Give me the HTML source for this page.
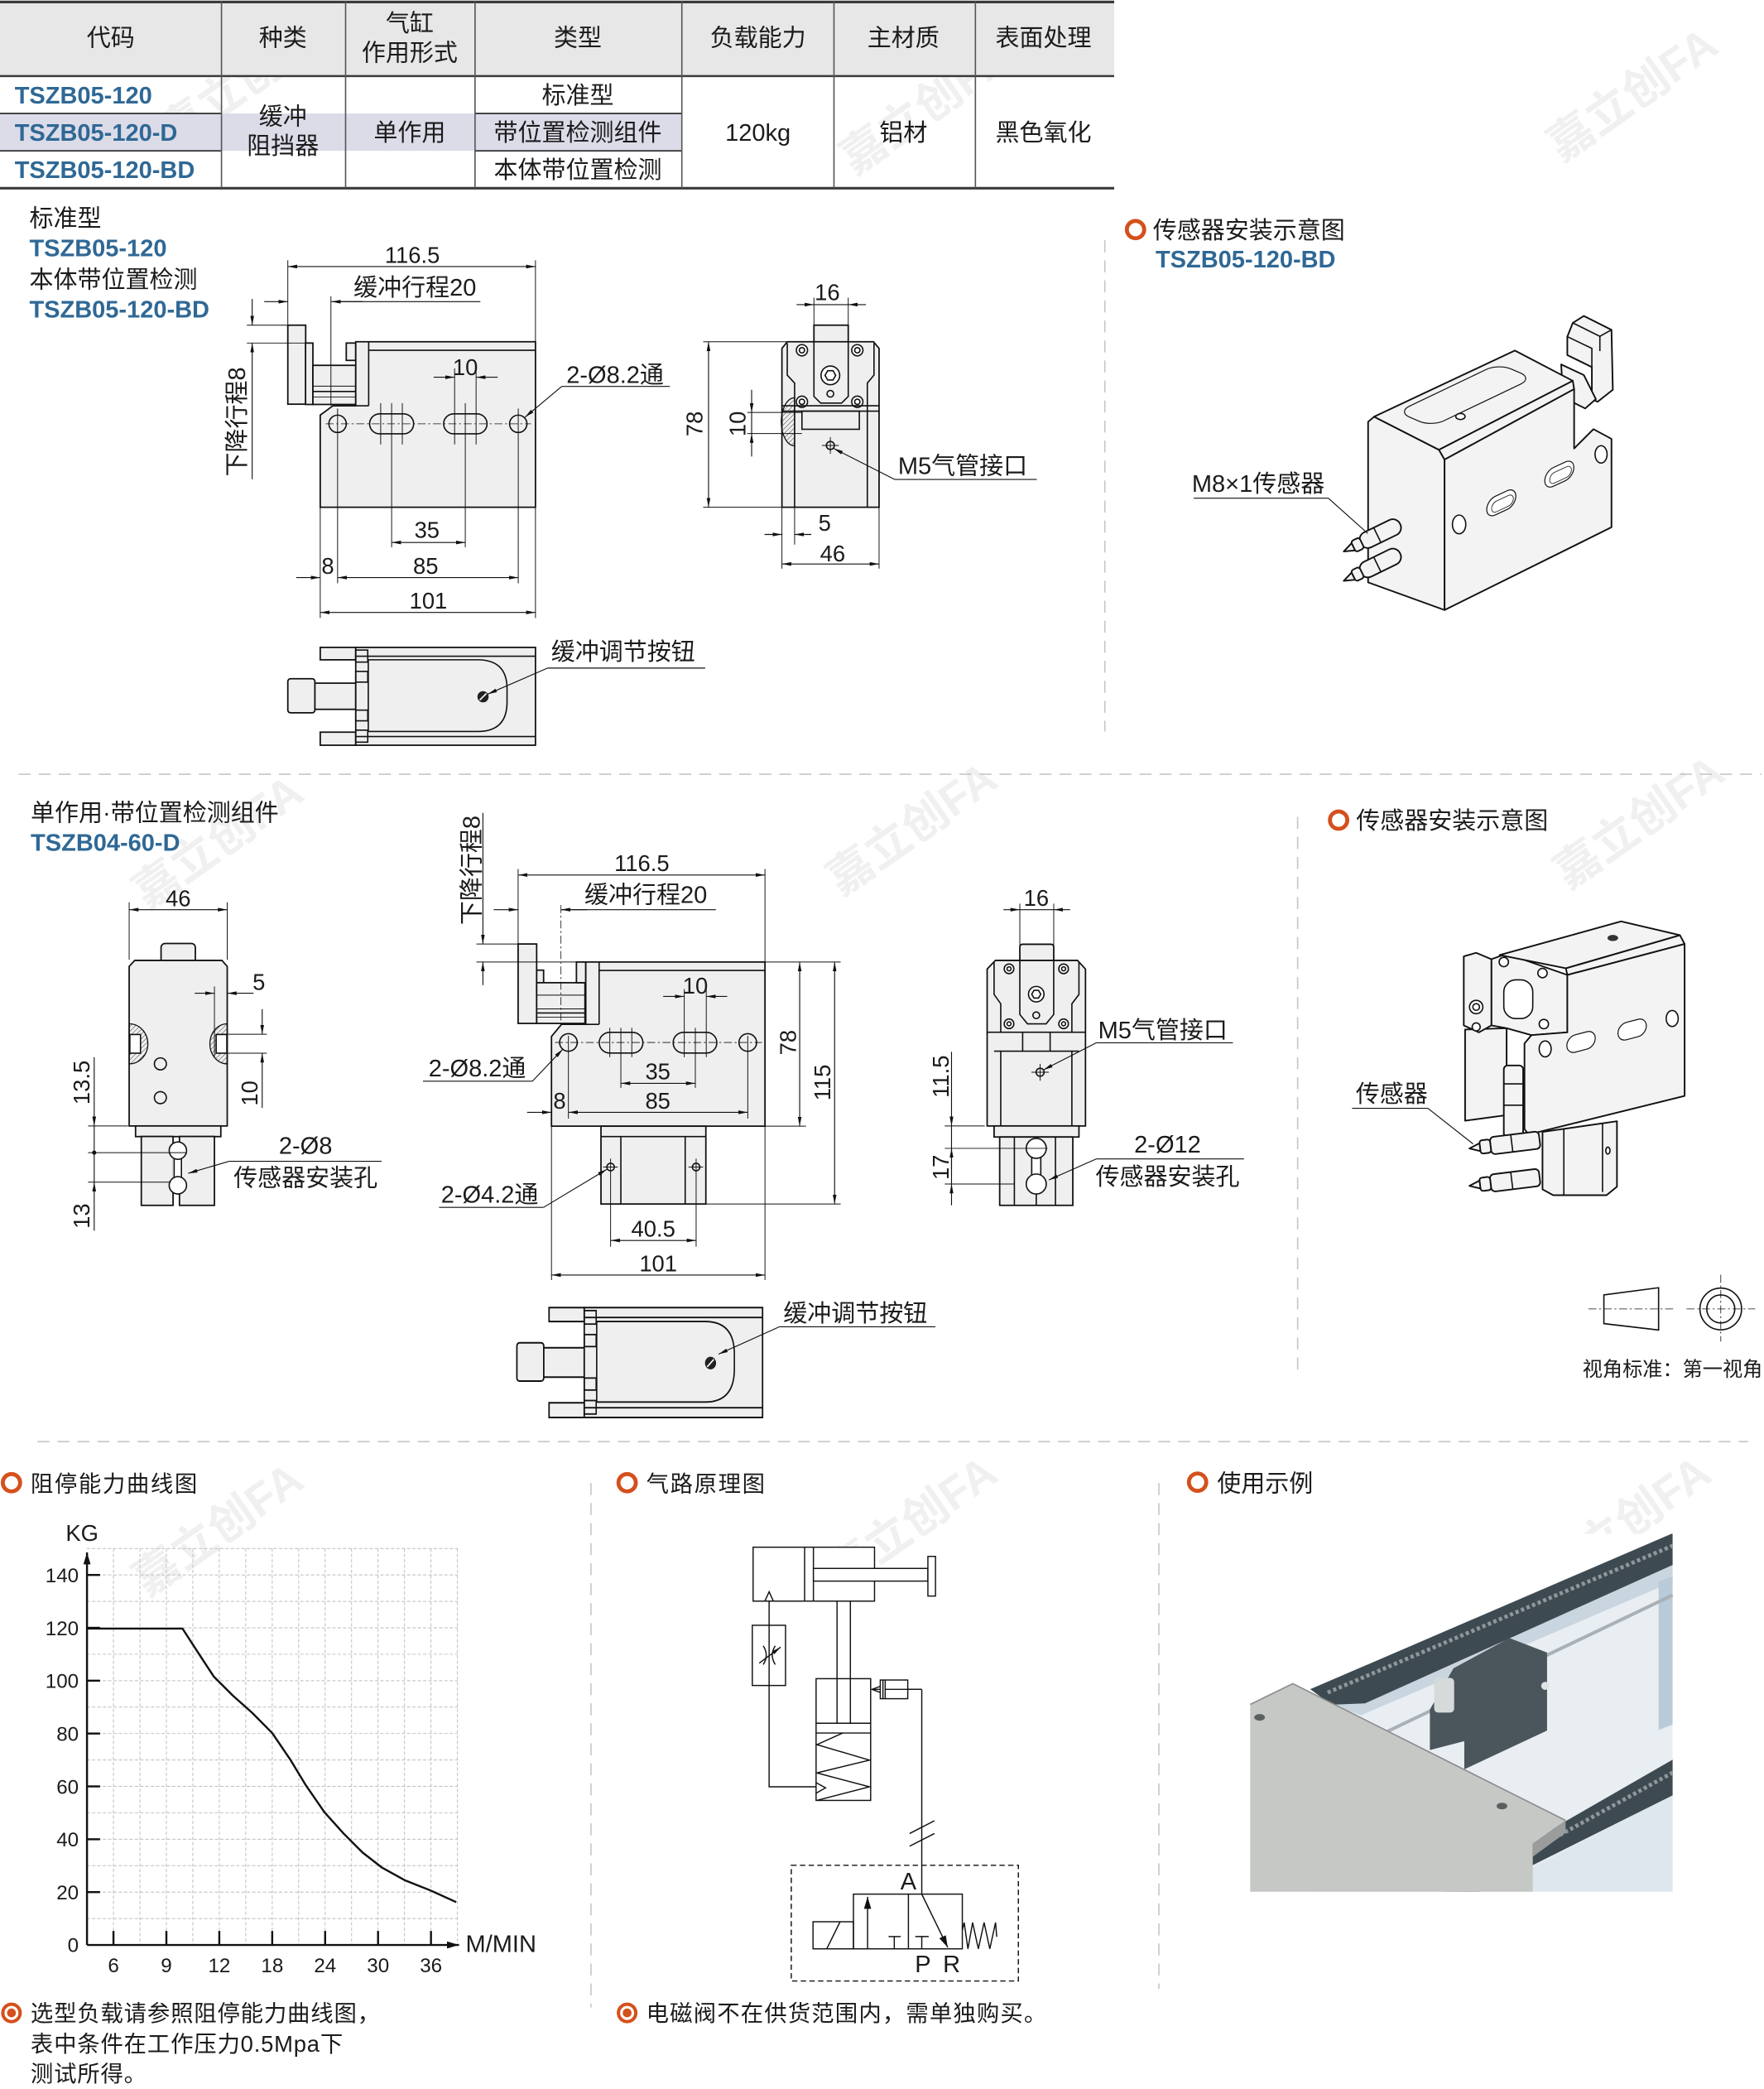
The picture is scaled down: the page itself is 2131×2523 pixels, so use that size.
<!DOCTYPE html>
<html><head><meta charset="utf-8">
<style>
html,body{margin:0;padding:0;background:#fff;width:2131px;height:2523px;overflow:hidden}
svg{display:block}
text{font-family:"Liberation Sans","Noto Sans CJK SC",sans-serif;fill:#1b1b1b}
.c{text-anchor:middle}
.bl{fill:#2f6895;font-weight:bold}
.o{stroke:#111;stroke-width:1.1;fill:#efefef}
.f{stroke:#111;stroke-width:1.2;fill:#f3f3f3;stroke-linejoin:round}
.l{stroke:#111;stroke-width:1;fill:none}
.t{stroke:#111;stroke-width:.6;fill:none}
.d{stroke:#111;stroke-width:.7;fill:none}
.w{stroke:#111;stroke-width:1;fill:#fff}
.cl{stroke:#111;stroke-width:.5;fill:none;stroke-dasharray:6 2 1.5 2}
.dv{stroke:#c6c6c6;stroke-width:1;stroke-dasharray:9 6;fill:none}
.wm{fill:#f0f0f0;font-weight:bold;font-family:"Liberation Sans","Noto Sans CJK SC",sans-serif}
</style></head><body>
<svg width="2131" height="2523" viewBox="0 0 1322 1565" preserveAspectRatio="none" xmlns="http://www.w3.org/2000/svg">
<defs>
<marker id="a" viewBox="0 0 10 4" refX="10" refY="2" markerWidth="7" markerHeight="2.8" orient="auto-start-reverse" markerUnits="userSpaceOnUse"><path d="M0,0L10,2L0,4z" fill="#111"/></marker>
<marker id="b" viewBox="0 0 10 6" refX="10" refY="3" markerWidth="9" markerHeight="5.4" orient="auto" markerUnits="userSpaceOnUse"><path d="M0,0L10,3L0,6z" fill="#111"/></marker>
<pattern id="h" width="2.5" height="2.5" patternUnits="userSpaceOnUse" patternTransform="rotate(45)"><line x1="0" y1="0" x2="0" y2="2.5" stroke="#333" stroke-width="0.6"/></pattern>
<clipPath id="pc"><rect x="936.8" y="1149" width="317" height="268.2"/></clipPath>
</defs>

<!-- watermarks -->
<g font-size="34">
<text transform="translate(190,70) rotate(-35)" class="c wm">嘉立创FA</text>
<text transform="translate(700,90) rotate(-35)" class="c wm">嘉立创FA</text>
<text transform="translate(1230,80) rotate(-35)" class="c wm">嘉立创FA</text>
<text transform="translate(170,640) rotate(-35)" class="c wm">嘉立创FA</text>
<text transform="translate(690,630) rotate(-35)" class="c wm">嘉立创FA</text>
<text transform="translate(1235,625) rotate(-35)" class="c wm">嘉立创FA</text>
<text transform="translate(170,1155) rotate(-35)" class="c wm">嘉立创FA</text>
<text transform="translate(690,1150) rotate(-35)" class="c wm">嘉立创FA</text>
<text transform="translate(1225,1150) rotate(-35)" class="c wm">嘉立创FA</text>
</g>

<!-- ===== TABLE ===== -->
<rect x="0" y="1" width="835" height="56" fill="#e7e7e7"/>
<rect x="0" y="85" width="511" height="28" fill="#dcdce9"/>
<g stroke="#3a3a3a">
<line x1="0" y1="1.5" x2="835" y2="1.5" stroke-width="2"/>
<line x1="0" y1="57" x2="835" y2="57" stroke-width="1.6"/>
<line x1="0" y1="141" x2="835" y2="141" stroke-width="2"/>
<line x1="0" y1="85" x2="166" y2="85" stroke-width="1.2"/>
<line x1="0" y1="113" x2="166" y2="113" stroke-width="1.2"/>
<line x1="356" y1="85" x2="511" y2="85" stroke-width="1.2"/>
<line x1="356" y1="113" x2="511" y2="113" stroke-width="1.2"/>
</g>
<g stroke="#555" stroke-width="1">
<line x1="166" y1="1" x2="166" y2="141"/><line x1="259" y1="1" x2="259" y2="141"/>
<line x1="356" y1="1" x2="356" y2="141"/><line x1="511" y1="1" x2="511" y2="141"/>
<line x1="625" y1="1" x2="625" y2="141"/><line x1="731" y1="1" x2="731" y2="141"/>
</g>
<g font-size="18">
<text class="c" x="83" y="34.5">代码</text>
<text class="c" x="212" y="34.5">种类</text>
<text class="c" x="307" y="23.5">气缸</text>
<text class="c" x="307" y="45.5">作用形式</text>
<text class="c" x="433" y="34.5">类型</text>
<text class="c" x="568" y="34.5">负载能力</text>
<text class="c" x="677" y="34.5">主材质</text>
<text class="c" x="782" y="34.5">表面处理</text>
<text class="c" x="212" y="93.5">缓冲</text>
<text class="c" x="212" y="115.5">阻挡器</text>
<text class="c" x="307" y="105.5">单作用</text>
<text class="c" x="433" y="77.5">标准型</text>
<text class="c" x="433" y="105.5">带位置检测组件</text>
<text class="c" x="433" y="133.5">本体带位置检测</text>
<text class="c" x="568" y="105.5">120kg</text>
<text class="c" x="677" y="105.5">铝材</text>
<text class="c" x="782" y="105.5">黑色氧化</text>
</g>
<g font-size="18">
<text class="bl" x="11" y="77.5">TSZB05-120</text>
<text class="bl" x="11" y="105.5">TSZB05-120-D</text>
<text class="bl" x="11" y="133.5">TSZB05-120-BD</text>
</g>

<!-- ===== SECTION 1 labels ===== -->
<g font-size="18">
<text x="22" y="169.5">标准型</text>
<text class="bl" x="22" y="192">TSZB05-120</text>
<text x="22" y="215.5">本体带位置检测</text>
<text class="bl" x="22" y="238">TSZB05-120-BD</text>
</g>

<!-- ===== FRONT VIEW 1 ===== -->
<rect class="o" x="215.7" y="243.6" width="13.4" height="59.2"/>
<rect class="o" x="229" y="257" width="5.5" height="46"/>
<rect class="o" x="234.5" y="273.7" width="32.1" height="29.3"/>
<rect class="o" x="259.5" y="257" width="7.1" height="13"/>
<line class="t" x1="234.5" y1="289.3" x2="266.6" y2="289.3"/>
<line class="l" x1="234.5" y1="293.3" x2="266.6" y2="293.3"/>
<line class="t" x1="234.5" y1="297.4" x2="266.6" y2="297.4"/>
<path class="o" d="M266.6,256H401.3V380H240V311L249.5,304H266.6Z"/>
<line class="l" x1="276.3" y1="262.4" x2="401.3" y2="262.4"/>
<line class="l" x1="276.3" y1="256" x2="276.3" y2="304"/>
<line class="l" x1="266.6" y1="304" x2="276.3" y2="304"/>
<circle class="l" cx="253" cy="317.5" r="6.5"/>
<rect class="l" x="277" y="310" width="33" height="15" rx="7.5"/>
<rect class="l" x="332.5" y="310" width="32.5" height="15" rx="7.5"/>
<circle class="l" cx="388.4" cy="317.5" r="6.5"/>
<line class="cl" x1="244" y1="317.5" x2="398" y2="317.5"/>
<line class="t" x1="293.5" y1="302" x2="293.5" y2="410"/>
<line class="t" x1="348.7" y1="302" x2="348.7" y2="410"/>
<line class="t" x1="285.3" y1="302" x2="285.3" y2="333"/>
<line class="t" x1="301.5" y1="302" x2="301.5" y2="333"/>
<line class="t" x1="340.7" y1="276" x2="340.7" y2="333"/>
<line class="t" x1="356.8" y1="276" x2="356.8" y2="333"/>
<line class="t" x1="253" y1="306" x2="253" y2="437"/>
<line class="t" x1="388.4" y1="306" x2="388.4" y2="437"/>
<line class="t" x1="248" y1="222" x2="248" y2="304"/>
<line class="t" x1="215.7" y1="195" x2="215.7" y2="243"/>
<line class="t" x1="401.3" y1="195" x2="401.3" y2="256"/>
<line class="d" x1="215.7" y1="199.7" x2="401.3" y2="199.7" marker-start="url(#a)" marker-end="url(#a)"/>
<text class="c" x="309" y="197" font-size="17">116.5</text>
<text class="c" x="311" y="221.5" font-size="18">缓冲行程20</text>
<line class="d" x1="249.5" y1="226" x2="360" y2="226"/>
<line class="d" x1="198" y1="226" x2="215.7" y2="226" marker-end="url(#a)"/>
<line class="d" x1="272" y1="226" x2="248.3" y2="226" marker-end="url(#a)"/>
<text transform="translate(183.5,316) rotate(-90)" class="c" font-size="18">下降行程8</text>
<line class="d" x1="189" y1="224" x2="189" y2="243.6" marker-end="url(#a)"/>
<line class="d" x1="189" y1="359" x2="189" y2="257" marker-end="url(#a)"/>
<line class="t" x1="185" y1="243.6" x2="216" y2="243.6"/>
<line class="t" x1="185" y1="257" x2="229" y2="257"/>
<line class="t" x1="240" y1="380" x2="240" y2="463"/>
<line class="t" x1="401.3" y1="380" x2="401.3" y2="463"/>
<line class="d" x1="325" y1="282.6" x2="340.7" y2="282.6" marker-end="url(#a)"/>
<line class="d" x1="373" y1="282.6" x2="356.8" y2="282.6" marker-end="url(#a)"/>
<text class="c" x="348.7" y="281" font-size="17">10</text>
<line class="d" x1="293.5" y1="406.4" x2="348.7" y2="406.4" marker-start="url(#a)" marker-end="url(#a)"/>
<text class="c" x="320" y="403" font-size="17">35</text>
<line class="d" x1="222" y1="432.7" x2="240" y2="432.7" marker-end="url(#a)"/>
<text class="c" x="245.7" y="430" font-size="17">8</text>
<line class="d" x1="253" y1="432.7" x2="388.4" y2="432.7" marker-start="url(#a)" marker-end="url(#a)"/>
<text class="c" x="319" y="430" font-size="17">85</text>
<line class="d" x1="240" y1="458.8" x2="401.3" y2="458.8" marker-start="url(#a)" marker-end="url(#a)"/>
<text class="c" x="321" y="456" font-size="17">101</text>
<text class="c" x="461" y="287" font-size="18">2-Ø8.2通</text>
<line class="d" x1="421" y1="289.5" x2="502" y2="289.5"/>
<line class="d" x1="421" y1="289.5" x2="393.5" y2="312.5" marker-end="url(#a)"/>

<!-- ===== SIDE VIEW 1 ===== -->
<rect class="o" x="610" y="243.6" width="25.7" height="14"/>
<path class="o" d="M590,256H654.6L658.8,261V380H586V261Z"/>
<path class="l" d="M590,257V281L595.5,287V304M655,257V281L650,287V304"/>
<path class="l" d="M610,256V297L615,302H630.7L635.7,297V256"/>
<g>
<circle class="w" cx="601" cy="262.4" r="4.2"/><circle class="l" cx="601" cy="262.4" r="2"/>
<circle class="w" cx="642.5" cy="262.4" r="4.2"/><circle class="l" cx="642.5" cy="262.4" r="2"/>
<circle class="w" cx="601" cy="301" r="4.2"/><circle class="l" cx="601" cy="301" r="2"/>
<circle class="w" cx="642.5" cy="301" r="4.2"/><circle class="l" cx="642.5" cy="301" r="2"/>
<circle class="w" cx="622.3" cy="281.2" r="7"/>
<polygon class="l" points="626.3,281.2 624.3,284.7 620.3,284.7 618.3,281.2 620.3,277.7 624.3,277.7"/>
<circle class="l" cx="622.3" cy="295" r="2.5"/>
</g>
<line class="l" x1="586" y1="304" x2="658.8" y2="304"/>
<line class="l" x1="586" y1="308" x2="658.8" y2="308"/>
<rect class="l" x="601" y="308" width="43" height="13.6"/>
<line class="l" x1="595.5" y1="304" x2="595.5" y2="380"/>
<line class="l" x1="650" y1="304" x2="650" y2="380"/>
<path d="M595.5,298A10 18 0 0 0 595.5,334Z" fill="url(#h)" stroke="#111" stroke-width="0.8"/>
<circle class="l" cx="622.3" cy="333.7" r="3"/>
<line class="t" x1="616" y1="333.7" x2="628.6" y2="333.7"/><line class="t" x1="622.3" y1="327.4" x2="622.3" y2="340"/>
<line class="t" x1="610" y1="223" x2="610" y2="244"/>
<line class="t" x1="635.7" y1="223" x2="635.7" y2="244"/>
<line class="d" x1="597" y1="228.2" x2="610" y2="228.2" marker-end="url(#a)"/>
<line class="d" x1="649" y1="228.2" x2="635.7" y2="228.2" marker-end="url(#a)"/>
<line class="d" x1="610" y1="228.2" x2="635.7" y2="228.2"/>
<text class="c" x="620" y="225" font-size="17">16</text>
<line class="t" x1="527" y1="256" x2="590" y2="256"/>
<line class="t" x1="527" y1="380" x2="586" y2="380"/>
<line class="d" x1="531" y1="256" x2="531" y2="380" marker-start="url(#a)" marker-end="url(#a)"/>
<text transform="translate(526.5,317.5) rotate(-90)" class="c" font-size="17">78</text>
<line class="t" x1="560" y1="309" x2="601" y2="309"/>
<line class="t" x1="560" y1="324.8" x2="601" y2="324.8"/>
<line class="d" x1="563.3" y1="292" x2="563.3" y2="309" marker-end="url(#a)"/>
<line class="d" x1="563.3" y1="342" x2="563.3" y2="324.8" marker-end="url(#a)"/>
<line class="d" x1="563.3" y1="309" x2="563.3" y2="324.8"/>
<text transform="translate(558.7,317.5) rotate(-90)" class="c" font-size="17">10</text>
<line class="t" x1="586" y1="380" x2="586" y2="426"/>
<line class="t" x1="595.5" y1="380" x2="595.5" y2="408"/>
<line class="t" x1="658.8" y1="380" x2="658.8" y2="426"/>
<line class="d" x1="573" y1="400.4" x2="586" y2="400.4" marker-end="url(#a)"/>
<line class="d" x1="608" y1="400.4" x2="595.5" y2="400.4" marker-end="url(#a)"/>
<text class="c" x="618" y="397.5" font-size="17">5</text>
<line class="d" x1="586" y1="422.5" x2="658.8" y2="422.5" marker-start="url(#a)" marker-end="url(#a)"/>
<text class="c" x="624" y="420.5" font-size="17">46</text>
<line class="d" x1="670.6" y1="359.2" x2="777" y2="359.2"/>
<line class="d" x1="670.6" y1="359.2" x2="624.8" y2="336" marker-end="url(#a)"/>
<text x="673" y="355" font-size="18">M5气管接口</text>

<!-- ===== TOP VIEW 1 ===== -->
<g id="tv">
<rect class="o" x="215.7" y="508.5" width="20.3" height="25.5" rx="2"/>
<rect class="o" x="236" y="511.8" width="30.6" height="19.6"/>
<rect class="o" x="240" y="485" width="26.6" height="9.3"/>
<rect class="o" x="240" y="548.5" width="26.6" height="9.8"/>
<rect class="o" x="266.6" y="485" width="134.7" height="73.3"/>
<line class="l" x1="266.6" y1="491.6" x2="401.3" y2="491.6"/>
<line class="l" x1="266.6" y1="551.8" x2="401.3" y2="551.8"/>
<rect class="l" x="266.6" y="487" width="9" height="9"/>
<rect class="l" x="266.6" y="547" width="9" height="9"/>
<rect class="l" x="266.6" y="503" width="9" height="8"/>
<rect class="l" x="266.6" y="532" width="9" height="8"/>
<line class="l" x1="276" y1="494" x2="276" y2="548"/>
<path class="l" d="M276,494.3H358Q380,494.3 380,516V526Q380,548 358,548H276"/>
<circle cx="362" cy="522" r="4.2" fill="#222"/>
<line x1="359.5" y1="524.5" x2="364.5" y2="519.5" stroke="#fff" stroke-width="1"/>
</g>
<text x="413" y="494.5" font-size="18">缓冲调节按钮</text>
<line class="d" x1="410.4" y1="500.5" x2="528.5" y2="500.5"/>
<line class="d" x1="410.4" y1="500.5" x2="365.5" y2="520" marker-end="url(#a)"/>

<line class="dv" x1="828" y1="180" x2="828" y2="548"/>

<!-- ===== ISO 1 ===== -->
<circle cx="851" cy="172" r="6.5" fill="#fff" stroke="#d4501c" stroke-width="3"/>
<text x="864" y="178.5" font-size="18">传感器安装示意图</text>
<text class="bl" x="866" y="200.5" font-size="18">TSZB05-120-BD</text>
<g>
<polygon class="f" points="1174.6,252.2 1178.7,241.9 1187,236.7 1207.7,247.1 1208.7,292 1197.3,301 1193,299 1193,275 1174.6,266"/>
<polyline class="l" points="1178.7,241.9 1199,252 1207.7,247.1"/>
<line class="l" x1="1199" y1="252" x2="1199" y2="263"/>
<polyline class="l" points="1174.6,252.2 1193,261 1193,275"/>
<polygon class="f" points="1170,273 1187,281 1196,299 1188,306 1178,301 1171,291"/>
<polygon class="f" points="1025.3,316 1029.8,312.2 1078.4,337 1082.6,344.3 1082.6,457 1025.3,436.3"/>
<polygon class="f" points="1029.8,312.2 1135.3,262.6 1178.7,285.3 1078.4,337"/>
<polygon class="f" points="1078.4,337 1178.7,285.3 1179.7,291.5 1082.6,344.3"/>
<polygon class="f" points="1082.6,344.3 1179.7,291.5 1179.7,336 1194.2,321.5 1207.7,328.8 1207.7,395 1082.6,457"/>
<rect x="-42" y="-14" width="84" height="28" rx="10" fill="none" stroke="#111" stroke-width="1.2" vector-effect="non-scaling-stroke" transform="matrix(0.902,-0.431,0.92,0.391,1098,296)"/>
<ellipse cx="1094.5" cy="312" rx="3.5" ry="2.3" fill="#fff" stroke="#111" stroke-width="1"/>
<rect x="-12" y="-7" width="24" height="14" rx="7" fill="#fff" stroke="#111" stroke-width="1.2" vector-effect="non-scaling-stroke" transform="matrix(0.907,-0.421,0,1,1125.1,376.7)"/>
<rect x="-8" y="-3" width="18" height="8" rx="4" fill="none" stroke="#111" stroke-width="0.8" vector-effect="non-scaling-stroke" transform="matrix(0.907,-0.421,0,1,1125.1,376.7)"/>
<rect x="-12" y="-7" width="24" height="14" rx="7" fill="#fff" stroke="#111" stroke-width="1.2" vector-effect="non-scaling-stroke" transform="matrix(0.907,-0.421,0,1,1168.6,355.2)"/>
<rect x="-8" y="-3" width="18" height="8" rx="4" fill="none" stroke="#111" stroke-width="0.8" vector-effect="non-scaling-stroke" transform="matrix(0.907,-0.421,0,1,1168.6,355.2)"/>
<ellipse class="w" cx="1093.5" cy="392.9" rx="5" ry="7"/>
<ellipse class="w" cx="1199.9" cy="340.4" rx="4.5" ry="6.5"/>
<g transform="translate(1034,400) rotate(-26)">
<rect class="f" x="-16" y="-6.2" width="33" height="12.4" rx="6"/>
<line class="l" x1="-2" y1="-6.2" x2="-2" y2="6.2" stroke-width="1.8"/>
<rect class="f" x="-22" y="-4.5" width="7" height="9" rx="2"/>
<polygon class="f" points="-22,-3 -30,0 -22,3"/>
</g>
<g transform="translate(1034,422) rotate(-26)">
<rect class="f" x="-16" y="-6.2" width="33" height="12.4" rx="6"/>
<line class="l" x1="-2" y1="-6.2" x2="-2" y2="6.2" stroke-width="1.8"/>
<rect class="f" x="-22" y="-4.5" width="7" height="9" rx="2"/>
<polygon class="f" points="-22,-3 -30,0 -22,3"/>
</g>
</g>
<text class="c" x="943" y="368.5" font-size="18">M8×1传感器</text>
<line class="d" x1="894.6" y1="373.2" x2="995.5" y2="373.2"/>
<line class="d" x1="995.5" y1="373.2" x2="1025" y2="399.6"/>

<line class="dv" x1="14" y1="580" x2="1320" y2="580"/>

<!-- ===== SECTION 2 ===== -->
<text x="23" y="615" font-size="18">单作用·带位置检测组件</text>
<text class="bl" x="23" y="637.5" font-size="18">TSZB04-60-D</text>

<!-- left side view TSZB04 -->
<rect class="o" x="120.7" y="706.8" width="25.7" height="16" rx="3"/>
<path class="o" d="M101,719.5H166.3L170.3,724V843.5H96.8V724Z"/>
<path d="M96.8,767A14 15 0 0 1 96.8,797Z" fill="url(#h)" stroke="#111" stroke-width="0.8"/>
<rect class="w" x="97.3" y="775" width="8" height="14"/>
<path d="M170.3,767A13 15 0 0 0 170.3,797Z" fill="url(#h)" stroke="#111" stroke-width="0.8"/>
<rect class="w" x="162" y="775" width="8" height="14"/>
<circle class="l" cx="120.2" cy="797" r="4.5"/>
<circle class="l" cx="120.2" cy="822.3" r="4.5"/>
<rect class="o" x="101.6" y="843.5" width="63.9" height="8"/>
<rect class="o" x="105.9" y="851.4" width="23.8" height="51.6"/>
<rect class="o" x="134.5" y="851.4" width="26.2" height="51.6"/>
<rect x="129.2" y="864" width="8" height="20" fill="#fff"/>
<circle class="w" cx="133.3" cy="862" r="6.5"/>
<circle class="w" cx="133.3" cy="888" r="6.5"/>
<line class="l" x1="130.5" y1="868" x2="130.5" y2="882"/>
<line class="l" x1="136" y1="868" x2="136" y2="882"/>
<line class="t" x1="96.8" y1="676" x2="96.8" y2="719"/>
<line class="t" x1="170.3" y1="676" x2="170.3" y2="719"/>
<line class="d" x1="96.8" y1="681.5" x2="170.3" y2="681.5" marker-start="url(#a)" marker-end="url(#a)"/>
<text class="c" x="133.5" y="679" font-size="17">46</text>
<line class="t" x1="160.7" y1="739" x2="160.7" y2="792"/>
<line class="d" x1="146" y1="744.1" x2="160.7" y2="744.1" marker-end="url(#a)"/>
<line class="d" x1="190" y1="744.1" x2="170.3" y2="744.1" marker-end="url(#a)"/>
<text class="c" x="194" y="741.5" font-size="17">5</text>
<line class="t" x1="162" y1="774.8" x2="200" y2="774.8"/>
<line class="t" x1="162" y1="789" x2="200" y2="789"/>
<line class="d" x1="196.5" y1="756" x2="196.5" y2="774.8" marker-end="url(#a)"/>
<line class="d" x1="196.5" y1="830" x2="196.5" y2="789" marker-end="url(#a)"/>
<text transform="translate(193,819) rotate(-90)" class="c" font-size="17">10</text>
<line class="t" x1="66" y1="843.5" x2="96" y2="843.5"/>
<line class="t" x1="66" y1="863.5" x2="140" y2="863.5"/>
<line class="t" x1="66" y1="885.6" x2="128" y2="885.6"/>
<line class="d" x1="70.6" y1="792" x2="70.6" y2="843.5" marker-end="url(#a)"/>
<line class="d" x1="70.6" y1="843.5" x2="70.6" y2="885.6"/>
<line class="d" x1="70.6" y1="922" x2="70.6" y2="885.6" marker-end="url(#a)"/>
<circle cx="70.6" cy="863.5" r="1.6" fill="#111"/>
<text transform="translate(67,811) rotate(-90)" class="c" font-size="17">13.5</text>
<text transform="translate(67,911) rotate(-90)" class="c" font-size="17">13</text>
<text class="c" x="229" y="864.5" font-size="18">2-Ø8</text>
<text class="c" x="229" y="888.5" font-size="18">传感器安装孔</text>
<line class="d" x1="171.7" y1="870" x2="286" y2="870"/>
<line class="d" x1="171.7" y1="870" x2="141" y2="879" marker-end="url(#a)"/>

<!-- middle front view TSZB04 -->
<rect class="o" x="388.3" y="707.2" width="13.9" height="59.5"/>
<rect class="o" x="402.2" y="726.8" width="5.2" height="18.7"/>
<rect class="o" x="402.2" y="736.2" width="36.2" height="30.5"/>
<line class="t" x1="402.2" y1="745.5" x2="438.4" y2="745.5"/>
<line class="t" x1="402.2" y1="755.8" x2="438.4" y2="755.8"/>
<line class="l" x1="402.2" y1="758.9" x2="438.4" y2="758.9"/>
<line class="t" x1="402.2" y1="762" x2="438.4" y2="762"/>
<rect class="o" x="432" y="720.7" width="7" height="15.5"/>
<path class="o" d="M439,720.7H573.3V843.7H413.3V776.5L420.8,767.4H439Z"/>
<line class="l" x1="449" y1="727" x2="573.3" y2="727"/>
<line class="l" x1="449" y1="720.7" x2="449" y2="767.4"/>
<line class="l" x1="439" y1="767.4" x2="449" y2="767.4"/>
<circle class="l" cx="426" cy="781" r="6.6"/>
<rect class="l" x="449.1" y="773.4" width="32.7" height="15.5" rx="7.75"/>
<rect class="l" x="504.5" y="773.4" width="32.7" height="15.5" rx="7.75"/>
<circle class="l" cx="560.4" cy="781" r="6.6"/>
<line class="cl" x1="416" y1="781" x2="571" y2="781"/>
<line class="t" x1="457" y1="770" x2="457" y2="792"/>
<line class="t" x1="473.5" y1="770" x2="473.5" y2="792"/>
<line class="t" x1="465.3" y1="770" x2="465.3" y2="815"/>
<line class="t" x1="512.8" y1="741" x2="512.8" y2="792"/>
<line class="t" x1="529.3" y1="741" x2="529.3" y2="792"/>
<line class="t" x1="521.1" y1="770" x2="521.1" y2="815"/>
<line class="t" x1="426" y1="776" x2="426" y2="838"/>
<line class="t" x1="560.4" y1="776" x2="560.4" y2="838"/>
<line class="cl" x1="420.4" y1="678" x2="420.4" y2="770"/>
<rect class="o" x="450.4" y="843.7" width="78.6" height="58.3"/>
<line class="l" x1="450.4" y1="851.5" x2="529" y2="851.5"/>
<line class="l" x1="465.3" y1="851.5" x2="465.3" y2="902"/>
<line class="l" x1="513.5" y1="851.5" x2="513.5" y2="902"/>
<circle class="l" cx="457.6" cy="874.3" r="2.8"/>
<circle class="l" cx="521.7" cy="874.3" r="2.8"/>
<line class="t" x1="452" y1="874.3" x2="463" y2="874.3"/><line class="t" x1="516" y1="874.3" x2="527" y2="874.3"/>
<line class="t" x1="457.6" y1="868" x2="457.6" y2="934"/>
<line class="t" x1="521.7" y1="868" x2="521.7" y2="934"/>
<line class="t" x1="388.3" y1="651" x2="388.3" y2="707"/>
<line class="t" x1="573.3" y1="651" x2="573.3" y2="720.7"/>
<line class="d" x1="388.3" y1="655.5" x2="573.3" y2="655.5" marker-start="url(#a)" marker-end="url(#a)"/>
<text class="c" x="481" y="652.5" font-size="17">116.5</text>
<text class="c" x="484" y="676.5" font-size="18">缓冲行程20</text>
<line class="d" x1="420.4" y1="681.5" x2="536.5" y2="681.5"/>
<line class="d" x1="370" y1="681.5" x2="388.3" y2="681.5" marker-end="url(#a)"/>
<line class="d" x1="440" y1="681.5" x2="420.4" y2="681.5" marker-end="url(#a)"/>
<text transform="translate(359.5,652) rotate(-90)" class="c" font-size="18">下降行程8</text>
<line class="d" x1="361.9" y1="609" x2="361.9" y2="707.2" marker-end="url(#a)"/>
<line class="d" x1="361.9" y1="738" x2="361.9" y2="720.7" marker-end="url(#a)"/>
<line class="t" x1="357" y1="707.2" x2="388.3" y2="707.2"/>
<line class="t" x1="357" y1="720.7" x2="432" y2="720.7"/>
<line class="d" x1="497" y1="746.5" x2="512.8" y2="746.5" marker-end="url(#a)"/>
<line class="d" x1="545" y1="746.5" x2="529.3" y2="746.5" marker-end="url(#a)"/>
<text class="c" x="521.1" y="744.5" font-size="17">10</text>
<line class="d" x1="465.3" y1="811.6" x2="521.1" y2="811.6" marker-start="url(#a)" marker-end="url(#a)"/>
<text class="c" x="493" y="808.5" font-size="17">35</text>
<line class="d" x1="395" y1="833.3" x2="413.3" y2="833.3" marker-end="url(#a)"/>
<text class="c" x="419.4" y="830.5" font-size="17">8</text>
<line class="d" x1="426" y1="833.3" x2="560.4" y2="833.3" marker-start="url(#a)" marker-end="url(#a)"/>
<text class="c" x="493" y="830.5" font-size="17">85</text>
<line class="t" x1="573.3" y1="720.7" x2="630" y2="720.7"/>
<line class="t" x1="573.3" y1="843.7" x2="604" y2="843.7"/>
<line class="t" x1="529" y1="902" x2="630" y2="902"/>
<line class="d" x1="599.3" y1="720.7" x2="599.3" y2="843.7" marker-start="url(#a)" marker-end="url(#a)"/>
<text transform="translate(596.5,781) rotate(-90)" class="c" font-size="17">78</text>
<line class="d" x1="625.5" y1="720.7" x2="625.5" y2="902" marker-start="url(#a)" marker-end="url(#a)"/>
<text transform="translate(622.3,811) rotate(-90)" class="c" font-size="17">115</text>
<text class="c" x="357.7" y="806.5" font-size="18">2-Ø8.2通</text>
<line class="d" x1="317" y1="810" x2="399" y2="810"/>
<line class="d" x1="399" y1="810" x2="421.8" y2="786" marker-end="url(#a)"/>
<text class="c" x="367" y="901" font-size="18">2-Ø4.2通</text>
<line class="d" x1="329" y1="904.5" x2="407.4" y2="904.5"/>
<line class="d" x1="407.4" y1="904.5" x2="454.8" y2="876" marker-end="url(#a)"/>
<line class="d" x1="457.6" y1="929.3" x2="521.7" y2="929.3" marker-start="url(#a)" marker-end="url(#a)"/>
<text class="c" x="489.6" y="926.5" font-size="17">40.5</text>
<line class="t" x1="413.3" y1="843.7" x2="413.3" y2="959"/>
<line class="t" x1="573.3" y1="843.7" x2="573.3" y2="959"/>
<line class="d" x1="413.3" y1="955.2" x2="573.3" y2="955.2" marker-start="url(#a)" marker-end="url(#a)"/>
<text class="c" x="493.3" y="952.5" font-size="17">101</text>
<use href="#tv" transform="translate(173.4,979.6) scale(0.992,1.123) translate(0,-485)"/>
<text x="587" y="990" font-size="18">缓冲调节按钮</text>
<line class="d" x1="584" y1="994" x2="701" y2="994"/>
<line class="d" x1="584" y1="994" x2="538.5" y2="1014.5" marker-end="url(#a)"/>

<!-- right side view TSZB04 -->
<path class="o" d="M764.3,721V709.5Q764.3,707.4 766.5,707.4H787.5Q789.7,707.4 789.7,709.5V721Z"/>
<path class="o" d="M746,719.5H807.5L813.5,726V843.5H739.8V726Z"/>
<path class="l" d="M745,721V745L750,752V773.3M808.6,721V745L803.3,752V773.3"/>
<path class="l" d="M764.3,719.5V760L770,767H784L789.7,760V719.5"/>
<circle class="w" cx="756.2" cy="725.8" r="3.6"/><circle class="l" cx="756.2" cy="725.8" r="1.5"/>
<circle class="w" cx="797.1" cy="725.8" r="3.6"/><circle class="l" cx="797.1" cy="725.8" r="1.5"/>
<circle class="w" cx="756.2" cy="767" r="3.6"/><circle class="l" cx="756.2" cy="767" r="1.5"/>
<circle class="w" cx="797.1" cy="767" r="3.6"/><circle class="l" cx="797.1" cy="767" r="1.5"/>
<circle class="w" cx="776.6" cy="744.8" r="5.8"/>
<polygon class="l" points="780,744.8 778.3,747.7 774.9,747.7 773.2,744.8 774.9,741.9 778.3,741.9"/>
<circle class="l" cx="776.6" cy="760.6" r="2.5"/>
<line class="l" x1="739.8" y1="773.3" x2="813.5" y2="773.3"/>
<line class="l" x1="745" y1="787.5" x2="808.6" y2="787.5"/>
<line class="l" x1="766.4" y1="773.3" x2="766.4" y2="787.5"/>
<line class="l" x1="787" y1="773.3" x2="787" y2="787.5"/>
<line class="l" x1="750" y1="787.5" x2="750" y2="843.5"/>
<line class="l" x1="803.3" y1="787.5" x2="803.3" y2="843.5"/>
<circle class="l" cx="779.5" cy="803.3" r="3"/>
<line class="t" x1="773" y1="803.3" x2="786" y2="803.3"/><line class="t" x1="779.5" y1="797" x2="779.5" y2="809.6"/>
<rect class="o" x="745" y="843.5" width="63.6" height="8.3"/>
<rect class="o" x="749.2" y="851.8" width="54.8" height="51.2"/>
<line class="l" x1="760.2" y1="851.8" x2="760.2" y2="903"/>
<line class="l" x1="791" y1="851.8" x2="791" y2="903"/>
<line class="l" x1="776.6" y1="894" x2="776.6" y2="903"/>
<rect x="773" y="864" width="7.2" height="20" fill="#fff"/>
<circle class="w" cx="776.6" cy="860.3" r="7.5"/>
<circle class="w" cx="776.6" cy="887" r="7.5"/>
<line class="l" x1="773.2" y1="867" x2="773.2" y2="880.5"/>
<line class="l" x1="780" y1="867" x2="780" y2="880.5"/>
<line class="t" x1="764.3" y1="677" x2="764.3" y2="708"/>
<line class="t" x1="789.7" y1="677" x2="789.7" y2="708"/>
<line class="d" x1="752" y1="681.5" x2="764.3" y2="681.5" marker-end="url(#a)"/>
<line class="d" x1="802" y1="681.5" x2="789.7" y2="681.5" marker-end="url(#a)"/>
<line class="d" x1="764.3" y1="681.5" x2="789.7" y2="681.5"/>
<text class="c" x="776.6" y="678.5" font-size="17">16</text>
<line class="t" x1="708" y1="843.5" x2="738" y2="843.5"/>
<line class="t" x1="708" y1="860.3" x2="785" y2="860.3"/>
<line class="t" x1="708" y1="887" x2="760" y2="887"/>
<line class="d" x1="713.1" y1="788" x2="713.1" y2="843.5" marker-end="url(#a)"/>
<line class="d" x1="713.1" y1="843.5" x2="713.1" y2="887"/>
<line class="d" x1="713.1" y1="876" x2="713.1" y2="860.3" marker-end="url(#a)"/>
<line class="d" x1="713.1" y1="903" x2="713.1" y2="887" marker-end="url(#a)"/>
<text transform="translate(711,806.5) rotate(-90)" class="c" font-size="17">11.5</text>
<text transform="translate(711,874.5) rotate(-90)" class="c" font-size="17">17</text>
<text x="823" y="777.7" font-size="18">M5气管接口</text>
<line class="d" x1="821.7" y1="781.2" x2="924" y2="781.2"/>
<line class="d" x1="821.7" y1="781.2" x2="782" y2="801.5" marker-end="url(#a)"/>
<text class="c" x="875" y="863.5" font-size="18">2-Ø12</text>
<text class="c" x="875" y="887.5" font-size="18">传感器安装孔</text>
<line class="d" x1="821.7" y1="868.2" x2="932.3" y2="868.2"/>
<line class="d" x1="821.7" y1="868.2" x2="786" y2="884" marker-end="url(#a)"/>

<line class="dv" x1="972.5" y1="612" x2="972.5" y2="1030"/>

<!-- ISO 2 -->
<circle cx="1003.2" cy="614.4" r="6.5" fill="#fff" stroke="#d4501c" stroke-width="3"/>
<text x="1016.3" y="621" font-size="18">传感器安装示意图</text>
<g>
<polygon class="f" points="1156,848 1211.8,840 1211.8,889 1204,895.4 1164,895.4 1156,891"/>
<line class="l" x1="1172" y1="846" x2="1172" y2="895"/>
<line class="l" x1="1201" y1="842" x2="1201" y2="893"/>
<ellipse class="l" cx="1205" cy="862" rx="1.6" ry="2.6"/>
<polygon class="f" points="1098,771.3 1129.1,770.3 1129.1,835.4 1098,839.6"/>
<polygon class="f" points="1117.7,718.6 1129.1,714.5 1174.6,730.4 1174.6,773.4 1147.7,775.5 1129.1,770.3 1117.7,768.2"/>
<rect class="w" x="1127" y="734.1" width="21.7" height="29" rx="9"/>
<circle class="w" cx="1127" cy="720.7" r="3.5"/><circle class="w" cx="1156" cy="729" r="3.5"/><circle class="w" cx="1157" cy="767.2" r="3.5"/>
<polygon class="f" points="1097,716.5 1106.3,713.8 1117.7,718.6 1117.7,768.2 1108.4,773.4 1097,768.2"/>
<circle class="w" cx="1106.3" cy="754.4" r="5"/><circle class="l" cx="1106.3" cy="754.4" r="2.5"/>
<circle class="w" cx="1106.3" cy="769.3" r="3"/>
<rect class="f" x="1127" y="798.2" width="14.5" height="53.8" rx="3"/>
<line class="l" x1="1127" y1="812" x2="1141.5" y2="812" stroke-width="1.6"/>
<line class="l" x1="1127" y1="828" x2="1141.5" y2="828"/>
<polygon class="f" points="1173.5,725.4 1259,700.6 1262.5,707.2 1174.6,730.4"/>
<polygon class="f" points="1123.9,715.5 1214.9,690.3 1259,700.6 1173.5,725.4"/>
<polygon class="f" points="1174.6,730.4 1262.5,707.2 1262.5,821 1145.6,849.9 1142.5,845.8 1142.5,781.7 1147.7,775.5 1174.6,773.4"/>
<ellipse cx="1208.7" cy="702.7" rx="4" ry="2.3" fill="#333"/>
<ellipse class="w" cx="1158" cy="785.8" rx="4.5" ry="6"/>
<ellipse class="w" cx="1253.2" cy="763" rx="4.5" ry="6"/>
<rect x="-11" y="-6.5" width="22" height="13" rx="6.5" fill="#fff" stroke="#111" stroke-width="1.2" vector-effect="non-scaling-stroke" transform="matrix(0.967,-0.255,0,1,1184.9,780.6)"/>
<rect x="-11" y="-6.5" width="22" height="13" rx="6.5" fill="#fff" stroke="#111" stroke-width="1.2" vector-effect="non-scaling-stroke" transform="matrix(0.967,-0.255,0,1,1223.2,771.3)"/>
<g transform="translate(1129,857) rotate(-7)">
<rect class="f" x="-12" y="-6.5" width="37" height="13" rx="3"/>
<line class="l" x1="4" y1="-6.5" x2="4" y2="6.5" stroke-width="1.8"/>
<rect class="f" x="-20" y="-5" width="8" height="10" rx="2"/>
<polygon class="f" points="-20,-3 -28,0 -20,3"/>
</g>
<g transform="translate(1129,885) rotate(-7)">
<rect class="f" x="-12" y="-6.5" width="37" height="13" rx="3"/>
<line class="l" x1="4" y1="-6.5" x2="4" y2="6.5" stroke-width="1.8"/>
<rect class="f" x="-20" y="-5" width="8" height="10" rx="2"/>
<polygon class="f" points="-20,-3 -28,0 -20,3"/>
</g>
</g>
<text class="c" x="1043" y="825.5" font-size="18">传感器</text>
<line class="d" x1="1013.3" y1="830.3" x2="1070.1" y2="830.3"/>
<line class="d" x1="1070.1" y1="830.3" x2="1104" y2="857"/>

<!-- view symbol -->
<polygon class="l" points="1202,970.1 1243,964.7 1243,996.4 1202,991.6"/>
<line class="cl" x1="1190.4" y1="980.6" x2="1254" y2="980.6"/>
<circle class="l" cx="1289.6" cy="980.6" r="15.6"/>
<circle class="l" cx="1289.6" cy="980.6" r="10.5"/>
<line class="cl" x1="1264" y1="980.6" x2="1315.4" y2="980.6"/>
<line class="cl" x1="1289.6" y1="955" x2="1289.6" y2="1005"/>
<text x="1186" y="1031" font-size="15">视角标准：第一视角</text>

<line class="dv" x1="28" y1="1080" x2="1310" y2="1080"/>

<!-- ===== CHART ===== -->
<circle cx="8.6" cy="1110.8" r="6.5" fill="#fff" stroke="#d4501c" stroke-width="3"/>
<text x="22.9" y="1117.5" font-size="17" letter-spacing="1">阻停能力曲线图</text>
<g stroke="#bdbdbd" stroke-width="0.6" stroke-dasharray="2.5 1.5">
<line x1="85.03" y1="1160" x2="85.03" y2="1457"/><line x1="104.86" y1="1160" x2="104.86" y2="1457"/>
<line x1="124.69" y1="1160" x2="124.69" y2="1457"/><line x1="144.52" y1="1160" x2="144.52" y2="1457"/>
<line x1="164.35" y1="1160" x2="164.35" y2="1457"/><line x1="184.18" y1="1160" x2="184.18" y2="1457"/>
<line x1="204.01" y1="1160" x2="204.01" y2="1457"/><line x1="223.84" y1="1160" x2="223.84" y2="1457"/>
<line x1="243.67" y1="1160" x2="243.67" y2="1457"/><line x1="263.5" y1="1160" x2="263.5" y2="1457"/>
<line x1="283.33" y1="1160" x2="283.33" y2="1457"/><line x1="303.16" y1="1160" x2="303.16" y2="1457"/>
<line x1="322.99" y1="1160" x2="322.99" y2="1457"/><line x1="342.82" y1="1160" x2="342.82" y2="1457"/>
<line x1="65" y1="1437.3" x2="343" y2="1437.3"/><line x1="65" y1="1417.5" x2="343" y2="1417.5"/>
<line x1="65" y1="1397.7" x2="343" y2="1397.7"/><line x1="65" y1="1377.9" x2="343" y2="1377.9"/>
<line x1="65" y1="1358.1" x2="343" y2="1358.1"/><line x1="65" y1="1338.3" x2="343" y2="1338.3"/>
<line x1="65" y1="1318.5" x2="343" y2="1318.5"/><line x1="65" y1="1298.7" x2="343" y2="1298.7"/>
<line x1="65" y1="1278.9" x2="343" y2="1278.9"/><line x1="65" y1="1259.1" x2="343" y2="1259.1"/>
<line x1="65" y1="1239.3" x2="343" y2="1239.3"/><line x1="65" y1="1219.5" x2="343" y2="1219.5"/>
<line x1="65" y1="1199.7" x2="343" y2="1199.7"/><line x1="65" y1="1179.9" x2="343" y2="1179.9"/>
<line x1="65" y1="1160.1" x2="343" y2="1160.1"/>
</g>
<g stroke="#111" stroke-width="1.5">
<line x1="65.2" y1="1457.1" x2="65.2" y2="1163" marker-end="url(#b)"/>
<line x1="65.2" y1="1457.1" x2="344" y2="1457.1" marker-end="url(#b)"/>
<line x1="65.2" y1="1417.5" x2="75" y2="1417.5"/><line x1="65.2" y1="1377.9" x2="75" y2="1377.9"/>
<line x1="65.2" y1="1338.3" x2="75" y2="1338.3"/><line x1="65.2" y1="1298.7" x2="75" y2="1298.7"/>
<line x1="65.2" y1="1259.1" x2="75" y2="1259.1"/><line x1="65.2" y1="1219.5" x2="75" y2="1219.5"/>
<line x1="65.2" y1="1179.9" x2="75" y2="1179.9"/>
<line x1="85.03" y1="1446.6" x2="85.03" y2="1457"/><line x1="124.69" y1="1446.6" x2="124.69" y2="1457"/>
<line x1="164.35" y1="1446.6" x2="164.35" y2="1457"/><line x1="204.01" y1="1446.6" x2="204.01" y2="1457"/>
<line x1="243.67" y1="1446.6" x2="243.67" y2="1457"/><line x1="283.33" y1="1446.6" x2="283.33" y2="1457"/>
<line x1="322.99" y1="1446.6" x2="322.99" y2="1457"/>
</g>
<polyline points="65.2,1220.1 136.8,1220.1 148.8,1238.6 160.2,1256 174.5,1270.3 188.8,1283 204,1298.3 217.4,1318 228.9,1337 243.2,1357.7 257.5,1373.6 271.8,1387.9 286.1,1399 303.2,1408.5 323,1416.4 341.9,1425" fill="none" stroke="#111" stroke-width="1.5" stroke-linejoin="round"/>
<g font-size="15">
<text x="59" y="1462.5" text-anchor="end">0</text>
<text x="59" y="1423" text-anchor="end">20</text>
<text x="59" y="1383.4" text-anchor="end">40</text>
<text x="59" y="1343.8" text-anchor="end">60</text>
<text x="59" y="1304.2" text-anchor="end">80</text>
<text x="59" y="1264.6" text-anchor="end">100</text>
<text x="59" y="1225" text-anchor="end">120</text>
<text x="59" y="1185.4" text-anchor="end">140</text>
</g>
<g font-size="15">
<text class="c" x="85.03" y="1477.5">6</text>
<text class="c" x="124.69" y="1477.5">9</text>
<text class="c" x="164.35" y="1477.5">12</text>
<text class="c" x="204.01" y="1477.5">18</text>
<text class="c" x="243.67" y="1477.5">24</text>
<text class="c" x="283.33" y="1477.5">30</text>
<text class="c" x="322.99" y="1477.5">36</text>
</g>
<text class="c" x="61.5" y="1154.5" font-size="17">KG</text>
<text x="349" y="1462.5" font-size="18">M/MIN</text>
<circle cx="8.6" cy="1508" r="6.5" fill="#fff" stroke="#d4501c" stroke-width="2.5"/>
<circle cx="8.6" cy="1508" r="3.3" fill="#d4501c"/>
<g font-size="17" letter-spacing="0.5">
<text x="22.9" y="1514">选型负载请参照阻停能力曲线图，</text>
<text x="22.9" y="1537">表中条件在工作压力0.5Mpa下</text>
<text x="22.9" y="1559.5">测试所得。</text>
</g>

<line class="dv" x1="442.9" y1="1111" x2="442.9" y2="1504"/>
<line class="dv" x1="868.5" y1="1111" x2="868.5" y2="1490"/>

<!-- ===== PNEUMATIC ===== -->
<circle cx="470" cy="1110.8" r="6.5" fill="#fff" stroke="#d4501c" stroke-width="3"/>
<text x="484.3" y="1117.5" font-size="17" letter-spacing="1">气路原理图</text>
<g stroke="#111" stroke-width="0.9" fill="none">
<rect x="564.4" y="1159.1" width="91" height="40.4" fill="#fff"/>
<line x1="603" y1="1159.1" x2="603" y2="1199.5"/>
<line x1="609.6" y1="1159.1" x2="609.6" y2="1199.5"/>
<rect x="609.6" y="1175" width="85.8" height="9.5" fill="#fff"/>
<rect x="695.4" y="1166" width="5.7" height="29.7" fill="#fff"/>
<polygon points="576.4,1192.5 573.2,1199.5 579.6,1199.5" fill="#fff"/>
<rect x="563.8" y="1217.6" width="24.9" height="45.1" fill="#fff"/>
<path d="M572,1233Q576.5,1240 572,1247M581,1233Q576.5,1240 581,1247"/>
<line x1="569" y1="1246" x2="585" y2="1234" marker-end="url(#a)"/>
<polyline points="576.4,1199.5 576.4,1338.6 611.6,1338.6"/>
<polyline points="611.6,1335.5 618.7,1339.4 611.6,1343.4"/>
<line x1="627.3" y1="1199.5" x2="627.3" y2="1291"/>
<line x1="637.3" y1="1199.5" x2="637.3" y2="1291"/>
<rect x="611.6" y="1257.6" width="40.9" height="91.2"/>
<line x1="611.6" y1="1291" x2="652.5" y2="1291"/>
<line x1="611.6" y1="1298.3" x2="652.5" y2="1298.3"/>
<polyline points="631.6,1298.3 612.2,1307 651.6,1318.6 612.2,1328.2 651.6,1338.6 612.2,1348.8"/>
<polyline points="662,1262.5 653.5,1265.6 662,1268.8"/>
<line x1="653.5" y1="1265.6" x2="690.8" y2="1265.6"/>
<rect x="659.7" y="1258.6" width="20.6" height="14" fill="#fff"/>
<line x1="661.7" y1="1258.6" x2="661.7" y2="1272.6"/>
<line x1="663.4" y1="1258.6" x2="663.4" y2="1272.6"/>
<line x1="663.4" y1="1265.6" x2="690.8" y2="1265.6"/>
<line x1="690.8" y1="1265.6" x2="690.8" y2="1419"/>
<line x1="681.7" y1="1373.6" x2="700.3" y2="1364"/>
<line x1="681.7" y1="1383.1" x2="700.3" y2="1373.6"/>
<rect x="593" y="1397.4" width="170.2" height="86.7" stroke-dasharray="4 2.5"/>
<rect x="639.6" y="1419" width="81.6" height="41"/>
<line x1="680.8" y1="1419" x2="680.8" y2="1460"/>
<rect x="609.3" y="1439.7" width="30.3" height="20.3"/>
<line x1="619.6" y1="1460" x2="629.6" y2="1439.7"/>
<line x1="650.2" y1="1460" x2="650.2" y2="1421" marker-end="url(#b)"/>
<line x1="665.9" y1="1450.8" x2="675" y2="1450.8"/><line x1="670.2" y1="1450.8" x2="670.2" y2="1460"/>
<line x1="686" y1="1450.8" x2="696" y2="1450.8"/><line x1="690.8" y1="1450.8" x2="690.8" y2="1460"/>
<line x1="690.8" y1="1419" x2="710.3" y2="1459" marker-end="url(#b)"/>
<polyline points="721.2,1446 722.6,1440.3 725.4,1460 728.9,1440.3 733.2,1460 737.5,1440.3 741.8,1460 746.1,1440.3 747,1451"/>
</g>
<text class="c" x="680.8" y="1415.5" font-size="18">A</text>
<text class="c" x="691.7" y="1477.5" font-size="18">P</text>
<text class="c" x="713.2" y="1477.5" font-size="18">R</text>
<circle cx="470" cy="1508" r="6.5" fill="#fff" stroke="#d4501c" stroke-width="2.5"/>
<circle cx="470" cy="1508" r="3.3" fill="#d4501c"/>
<text x="484.3" y="1514" font-size="17" letter-spacing="0.7">电磁阀不在供货范围内，需单独购买。</text>

<!-- ===== PHOTO ===== -->
<circle cx="897.5" cy="1110.4" r="6.5" fill="#fff" stroke="#d4501c" stroke-width="3"/>
<text x="912.1" y="1117.5" font-size="18">使用示例</text>
<g clip-path="url(#pc)">
<rect x="936.8" y="1149" width="317" height="268.2" fill="#ffffff"/>
<polygon points="985,1277 1253.5,1165 1253.5,1417.2 985,1417.2" fill="#e9eef3"/>
<polygon points="1000,1278 1253.5,1172 1253.5,1185 1020,1285" fill="#c9d5df"/>
<polygon points="1243,1185 1253.5,1181 1253.5,1292 1243,1296" fill="#b9cad8"/>
<polygon points="1112.5,1417.2 1253.5,1345 1253.5,1417.2" fill="#dfe7ee"/>
<line x1="1040" y1="1297" x2="1253.5" y2="1195" stroke="#a9b1b7" stroke-width="2.5"/>
<polygon points="981.9,1265.5 1253.5,1148.7 1253.5,1172.4 1023,1276.1 997.8,1277.1" fill="#3e4a51"/>
<line x1="995" y1="1268" x2="1253.5" y2="1158" stroke="#8d979c" stroke-width="3" stroke-dasharray="2.5 2"/>
<polygon points="1081.4,1417.2 1253.5,1318.3 1253.5,1345 1108.3,1417.5" fill="#3e4a51"/>
<line x1="1098" y1="1414" x2="1253.5" y2="1328" stroke="#8d979c" stroke-width="3" stroke-dasharray="2.5 2"/>
<polygon points="1089.3,1249.8 1131.2,1227.2 1159.4,1238 1159.4,1296.5 1097.4,1325.5 1097.4,1304.4 1071.6,1311.1 1071.6,1280.7" fill="#4b555c"/>
<rect x="1074.8" y="1257" width="15" height="26" rx="3" fill="#d6dadb"/>
<circle cx="1158" cy="1263" r="3" fill="#dfe3e4"/>
<polygon points="936.9,1276.9 968.9,1261.3 1173.3,1363.8 1148.7,1381.2 1148.7,1417.5 936.9,1417.5" fill="#c6c8c6"/>
<polyline points="936.9,1276.9 968.9,1261.3 1173.3,1363.8" fill="none" stroke="#8a8d8c" stroke-width="1"/>
<polygon points="1148.7,1381.2 1173.3,1363.8 1173.3,1373 1148.7,1391" fill="#9a9d9c"/>
<ellipse cx="944" cy="1286.6" rx="4" ry="2.5" fill="#5b5f60"/>
<ellipse cx="1125.6" cy="1353" rx="4" ry="2.5" fill="#5b5f60"/>
</g>
</svg>
</body></html>
